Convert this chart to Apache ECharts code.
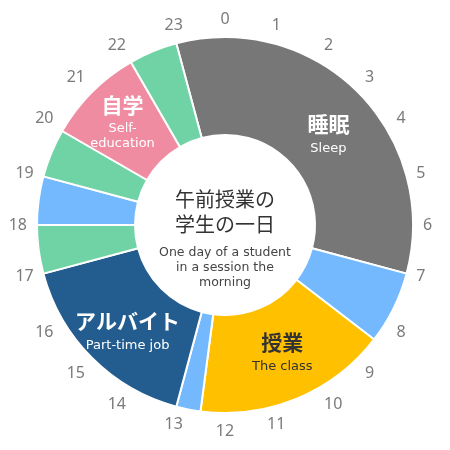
<!DOCTYPE html>
<html>
<head>
<meta charset="utf-8">
<script src="https://cdn.jsdelivr.net/npm/echarts@6/dist/echarts.min.js"></script>
<style>
html,body{margin:0;padding:0;background:#fff;}
#chart{width:450px;height:450px;}
</style>
</head>
<body>
<div id="chart"></div>
<script>
// Activities, starting at 23:00 and going clockwise
const activityTitles = ['睡眠', '', '授業', '', 'アルバイト', '', '', '', '自学', ''];
const activitySubs = ['Sleep', '', 'The class', '', 'Part-time job', '', '', '', 'Self-\neducation', ''];
const activityHours = [8, 1.5, 4, 0.5, 4, 1, 1, 1, 2, 1];
const activityColors = ['#777777', '#74b9fe', '#ffc000', '#74b9fe', '#235d8f', '#6fd3a5', '#74b9fe', '#6fd3a5', '#ef8ca2', '#6fd3a5'];
const hourLabels = ['0','1','2','3','4','5','6','7','8','9','10','11','12','13','14','15','16','17','18','19','20','21','22','23'];
const titleText = '午前授業の\n学生の一日';
const subText = 'One day of a student\nin a session the\nmorning';

const CJK = '"Noto Sans CJK JP", sans-serif';
const LATIN = '"DejaVu Sans", "Noto Sans CJK JP", sans-serif';
// label styling (kept separate from data)
const labelStyle = {
  '睡眠': { color: '#fff', offset: [3, 7] },
  '授業': { color: '#333', offset: [3, -7] },
  'アルバイト': { color: '#fff', offset: [3, 3] },
  '自学': { color: '#fff', offset: [-2, -5] }
};

const pieData = activityHours.map((v, i) => {
  const item = { value: v, name: activityTitles[i] || ('slot' + i), itemStyle: { color: activityColors[i] } };
  const st = labelStyle[activityTitles[i]];
  if (st) {
    const subs = activitySubs[i].split('\n').map(s => '{s|' + s + '}').join('\n');
    item.label = {
      show: true,
      offset: st.offset,
      formatter: '{t|' + activityTitles[i] + '}\n' + subs,
      rich: {
        t: { fontSize: 21, fontWeight: 'bold', color: st.color, lineHeight: 34, fontFamily: CJK },
        s: { fontSize: 13, color: st.color, lineHeight: 15, fontFamily: LATIN }
      }
    };
  } else {
    item.label = { show: false };
  }
  return item;
});

const chart = echarts.init(document.getElementById('chart'));
chart.setOption({
  animation: false,
  title: {
    text: titleText,
    subtext: subText,
    left: 'center',
    top: 182,
    itemGap: 8,
    textStyle: { fontSize: 20, fontWeight: 'normal', color: '#333', lineHeight: 25, fontFamily: CJK },
    subtextStyle: { fontSize: 12.5, color: '#444', lineHeight: 15, fontFamily: LATIN }
  },
  polar: { center: ['50%', '50%'], radius: 188 },
  angleAxis: {
    type: 'value', min: 0, max: 24, interval: 1, startAngle: 90, clockwise: true,
    axisLine: { show: false }, axisTick: { show: false }, splitLine: { show: false },
    axisLabel: {
      margin: 10, color: '#7a7a7a', fontSize: 16, fontFamily: '"Noto Sans", sans-serif',
      formatter: v => (v >= 24 ? '' : hourLabels[v])
    }
  },
  radiusAxis: { show: false, min: 0, max: 1 },
  series: [{
    type: 'pie',
    center: ['50%', '50%'],
    radius: [90, 188],
    startAngle: 105,
    clockwise: true,
    avoidLabelOverlap: false,
    label: { position: 'inside' },
    labelLine: { show: false },
    emphasis: { disabled: true },
    itemStyle: { borderColor: '#fff', borderWidth: 2 },
    data: pieData
  }]
});
</script>
</body>
</html>
